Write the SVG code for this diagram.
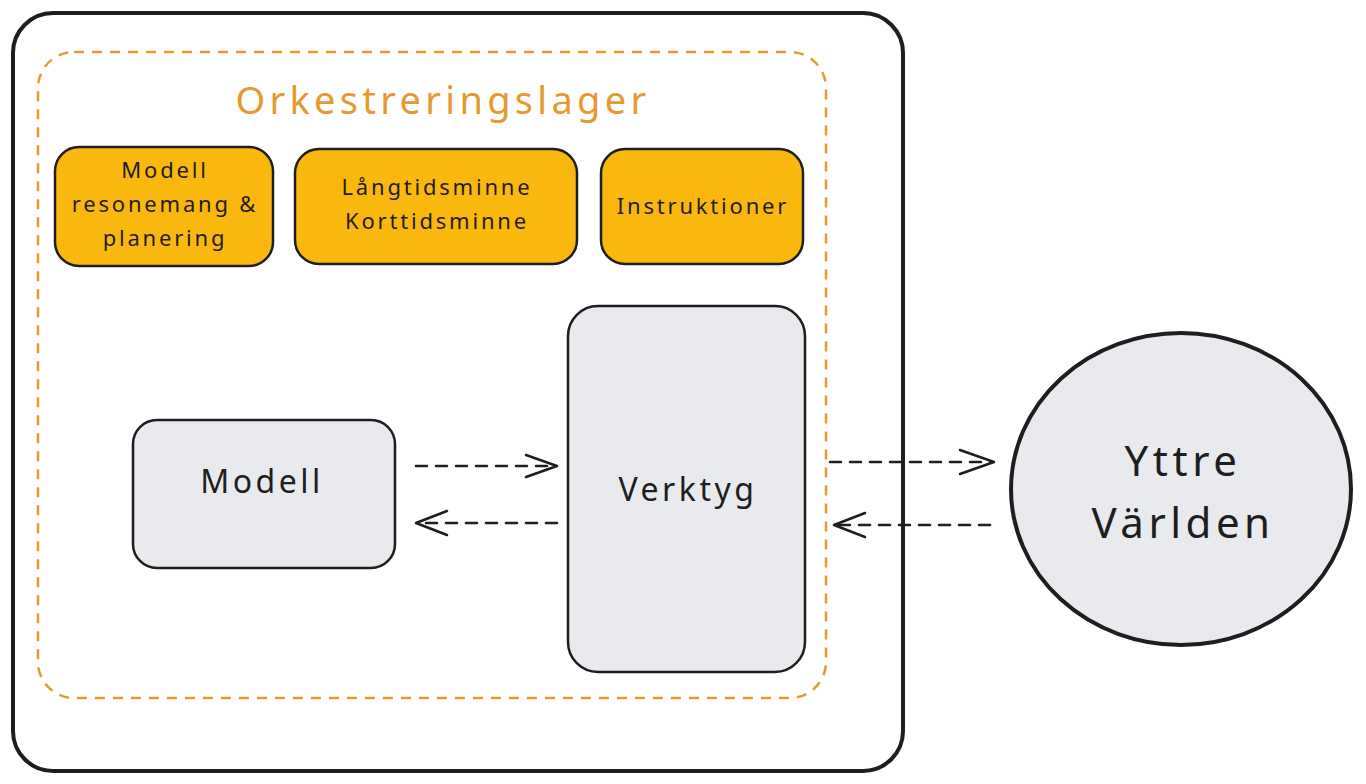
<svg xmlns="http://www.w3.org/2000/svg" width="1366" height="784" viewBox="0 0 1366 784">
<defs>
<style>
.txt{font-family:"Noto Sans","DejaVu Sans",sans-serif;fill:#1e1e1e;text-anchor:middle}
.sm{font-size:22px;letter-spacing:2.8px}
.md{font-size:32px;letter-spacing:3.5px}
.lg{font-size:42px;letter-spacing:4.5px}
.yel{fill:#fab80f;stroke:#1e1e1e;stroke-width:2.5}
.gry{fill:#e8eaee;stroke:#1e1e1e;stroke-width:2.5}
.dash{fill:none;stroke:#1e1e1e;stroke-width:2.5;stroke-dasharray:11 9;stroke-linecap:round}
.head{fill:none;stroke:#1e1e1e;stroke-width:2.5;stroke-linecap:round;stroke-linejoin:round}
</style>
</defs>
<rect width="1366" height="784" fill="#ffffff"/>
<g id="outer">
<rect x="13" y="13" width="890" height="758" rx="40" fill="#ffffff" stroke="#1e1e1e" stroke-width="4"/>
</g>
<g id="orchestration">
<rect x="38" y="52" width="788" height="646" rx="36" fill="none" stroke="#e59a2f" stroke-width="2.5" stroke-dasharray="10 8"/>
<text x="443" y="114" style="font-family:'Noto Sans','DejaVu Sans',sans-serif;font-size:38px;letter-spacing:4.3px;fill:#e59a2f;text-anchor:middle">Orkestreringslager</text>
</g>
<g id="node-reasoning">
<rect class="yel" x="55" y="147" width="218" height="119" rx="24"/>
<text class="txt sm" x="165" y="178">Modell</text>
<text class="txt sm" x="165" y="212">resonemang &amp;</text>
<text class="txt sm" x="165" y="246">planering</text>
</g>
<g id="node-memory">
<rect class="yel" x="295" y="149" width="282" height="115" rx="24"/>
<text class="txt sm" x="437" y="195">Långtidsminne</text>
<text class="txt sm" x="437" y="229">Korttidsminne</text>
</g>
<g id="node-instructions">
<rect class="yel" x="601" y="149" width="202" height="115" rx="24"/>
<text class="txt sm" x="703" y="214">Instruktioner</text>
</g>
<g id="node-model">
<rect class="gry" x="133" y="420" width="262" height="148" rx="24"/>
<text class="txt md" x="262" y="493">Modell</text>
</g>
<g id="node-tools">
<rect class="gry" x="568" y="306" width="237" height="366" rx="30"/>
<text class="txt md" x="688" y="501">Verktyg</text>
</g>
<g id="node-world">
<ellipse cx="1181" cy="489" rx="170" ry="156" fill="#e8eaee" stroke="#1e1e1e" stroke-width="4"/>
<text class="txt lg" x="1183" y="476">Yttre</text>
<text class="txt lg" x="1183" y="538">Världen</text>
</g>
<g id="connectors">
<line class="dash" x1="416" y1="466" x2="555" y2="466"/>
<polyline class="head" points="526,455 557,466 526,477"/>
<line class="dash" x1="557" y1="523" x2="418" y2="523"/>
<polyline class="head" points="447,511 416,523 447,535"/>
<line class="dash" x1="830" y1="462" x2="992" y2="462"/>
<polyline class="head" points="960,450 994,462 960,474"/>
<line class="dash" x1="990" y1="525" x2="836" y2="525"/>
<polyline class="head" points="865,513 834,525 865,537"/>
</g>
</svg>
